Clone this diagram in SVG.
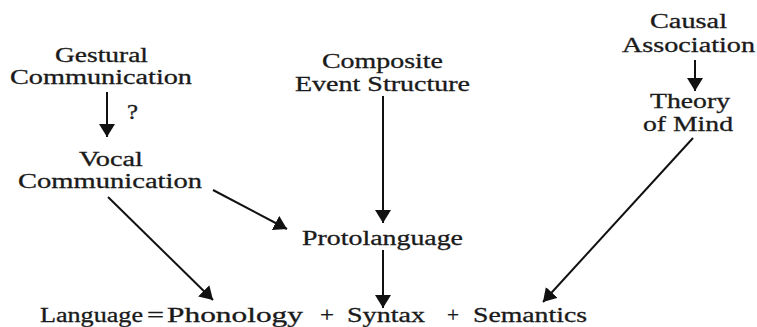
<svg xmlns="http://www.w3.org/2000/svg" width="757" height="327" viewBox="0 0 757 327">
<style>
text{font-family:"Liberation Serif","Times New Roman",serif;font-size:20.5px;fill:#1a1a1a;stroke:#1a1a1a;stroke-width:0.3}
.c line{stroke:#111;stroke-width:2}
</style>
<defs>
<marker id="ah" markerUnits="userSpaceOnUse" markerWidth="13" markerHeight="16" refX="13" refY="8" orient="auto">
<path d="M0,0 L13,8 L0,16 Z" fill="#111"/>
</marker>
</defs>
<rect width="757" height="327" fill="#fff"/>
<g id="gestural">
<text x="55" y="62" textLength="93" lengthAdjust="spacingAndGlyphs">Gestural</text>
<text x="10" y="84" textLength="182" lengthAdjust="spacingAndGlyphs">Communication</text>
</g>
<g id="vocal">
<text x="79" y="166" textLength="64" lengthAdjust="spacingAndGlyphs">Vocal</text>
<text x="18" y="188" textLength="184" lengthAdjust="spacingAndGlyphs">Communication</text>
</g>
<g id="composite">
<text x="322" y="68" textLength="121" lengthAdjust="spacingAndGlyphs">Composite</text>
<text x="295" y="91" textLength="175" lengthAdjust="spacingAndGlyphs">Event Structure</text>
</g>
<g id="causal">
<text x="650" y="28" textLength="77" lengthAdjust="spacingAndGlyphs">Causal</text>
<text x="622" y="52" textLength="133" lengthAdjust="spacingAndGlyphs">Association</text>
</g>
<g id="theory">
<text x="650" y="108" textLength="80" lengthAdjust="spacingAndGlyphs">Theory</text>
<text x="643" y="131" textLength="90" lengthAdjust="spacingAndGlyphs">of Mind</text>
</g>
<g id="protolanguage">
<text x="302" y="245" textLength="161" lengthAdjust="spacingAndGlyphs">Protolanguage</text>
</g>
<g id="language">
<text y="322"><tspan x="40" textLength="103" lengthAdjust="spacingAndGlyphs">Language</tspan><tspan x="147" textLength="17" lengthAdjust="spacingAndGlyphs">=</tspan><tspan x="167" textLength="136" lengthAdjust="spacingAndGlyphs">Phonology</tspan><tspan x="320" textLength="14" lengthAdjust="spacingAndGlyphs">+</tspan><tspan x="347" textLength="78" lengthAdjust="spacingAndGlyphs">Syntax</tspan><tspan x="447" textLength="12" lengthAdjust="spacingAndGlyphs">+</tspan><tspan x="473" textLength="114" lengthAdjust="spacingAndGlyphs">Semantics</tspan></text>
</g>
<g class="c" id="connectors">
<line x1="107" y1="92" x2="107" y2="137" marker-end="url(#ah)"/>
<text x="127" y="119" textLength="11" lengthAdjust="spacingAndGlyphs">?</text>
<line x1="383" y1="96" x2="383" y2="223" marker-end="url(#ah)"/>
<line x1="695" y1="60" x2="695" y2="91" marker-end="url(#ah)"/>
<line x1="383" y1="250" x2="383" y2="308" marker-end="url(#ah)"/>
<line x1="213" y1="190" x2="287" y2="229" marker-end="url(#ah)"/>
<line x1="108" y1="197" x2="213" y2="300" marker-end="url(#ah)"/>
<line x1="693" y1="138" x2="543" y2="302" marker-end="url(#ah)"/>
</g>
</svg>
